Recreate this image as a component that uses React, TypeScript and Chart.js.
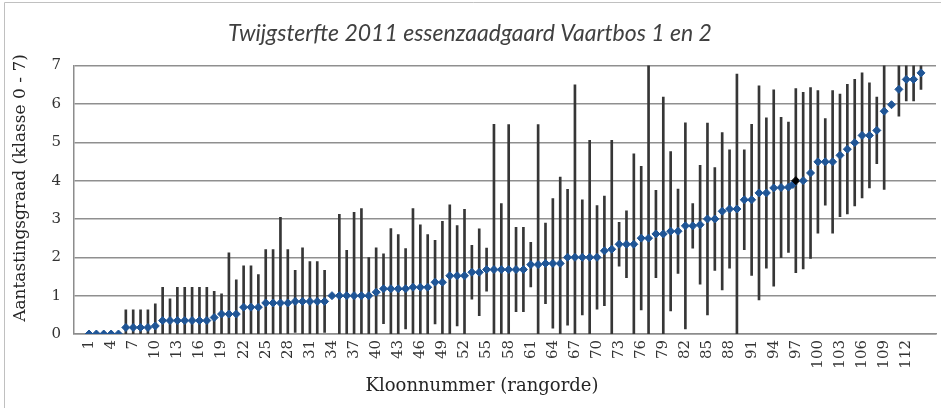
import React, { useEffect, useRef } from 'react';
import { Chart, registerables } from 'chart.js';

Chart.register(...registerables);

// Mean damage class per clone (rank order 1..114)
const means = [
  0, 0, 0, 0, 0, 0.17, 0.17, 0.17, 0.17, 0.21,
  0.35, 0.35, 0.35, 0.35, 0.35, 0.35, 0.35, 0.43, 0.52, 0.52,
  0.52, 0.7, 0.7, 0.7, 0.81, 0.81, 0.81, 0.81, 0.85, 0.85,
  0.85, 0.85, 0.85, 1.0, 1.0, 1.0, 1.0, 1.0, 1.0, 1.09,
  1.18, 1.18, 1.18, 1.18, 1.22, 1.22, 1.22, 1.35, 1.35, 1.52,
  1.52, 1.52, 1.61, 1.61, 1.68, 1.68, 1.68, 1.68, 1.68, 1.68,
  1.81, 1.81, 1.84, 1.84, 1.84, 2.0, 2.0, 2.0, 2.0, 2.0,
  2.17, 2.21, 2.34, 2.34, 2.34, 2.5, 2.5, 2.61, 2.61, 2.68,
  2.68, 2.82, 2.82, 2.85, 3.0, 3.0, 3.2, 3.26, 3.26, 3.5,
  3.5, 3.68, 3.68, 3.81, 3.82, 3.83, 4.0, 4.0, 4.2, 4.49,
  4.49, 4.49, 4.66, 4.82, 4.99, 5.18, 5.18, 5.31, 5.81, 5.98,
  6.38, 6.64, 6.64, 6.81,
];

// Standard deviation (error bar half-length)
const sds = [
  0, 0, 0, 0, 0, 0.46, 0.46, 0.46, 0.46, 0.58,
  0.87, 0.57, 0.87, 0.87, 0.87, 0.87, 0.87, 0.68, 0.53, 1.6,
  0.89, 1.08, 1.08, 0.85, 1.39, 1.39, 2.23, 1.39, 0.81, 1.4,
  1.04, 1.04, 0.81, 0, 2.12, 1.18, 2.17, 2.27, 0.99, 1.16,
  0.91, 1.57, 1.41, 1.05, 2.05, 1.63, 1.37, 1.09, 1.59, 1.85,
  1.31, 1.73, 0.7, 1.13, 0.56, 3.79, 1.72, 3.78, 1.1, 1.1,
  0.58, 3.65, 1.05, 1.69, 2.25, 1.77, 4.5, 1.5, 3.05, 1.35,
  1.43, 2.84, 0.57, 0.87, 2.36, 1.87, 4.6, 1.14, 3.57, 2.08,
  1.1, 2.69, 0.58, 1.55, 2.5, 1.34, 2.05, 1.54, 3.52, 1.3,
  1.97, 2.79, 1.96, 2.56, 1.83, 1.7, 2.4, 2.3, 2.23, 1.86,
  1.13, 1.86, 1.6, 1.69, 1.65, 1.63, 1.37, 0.87, 2.04, 0,
  0.7, 0.56, 0.56, 0.43,
];

const highlightRank = 97;
const extraRanks = [96.6];
const extraValues = [3.9];

const tickLabels = [
  1, 4, 7, 10, 13, 16, 19, 22, 25, 28, 31, 34, 37, 40, 43, 46, 49, 52, 55,
  58, 61, 64, 67, 70, 73, 76, 79, 82, 85, 88, 91, 94, 97, 100, 103, 106, 109, 112,
];

const yTicks = [0, 1, 2, 3, 4, 5, 6, 7];

const TITLE = 'Twijgsterfte 2011 essenzaadgaard Vaartbos 1 en 2';
const Y_TITLE = 'Aantastingsgraad (klasse 0 - 7)';
const X_TITLE = 'Kloonnummer (rangorde)';

const BLUE = '#1f5596';
const SERIF = '"DejaVu Serif", serif';

export default function App() {
  const ref = useRef<HTMLCanvasElement | null>(null);

  useEffect(() => {
    document.body.style.margin = '0';
    const canvas = ref.current;
    if (!canvas) return;
    const ranks = means.map((_, i) => i + 1);

    const framePlugin = {
      id: 'frame',
      beforeDraw(chart: any) {
        const ctx = chart.ctx;
        ctx.save();
        ctx.strokeStyle = '#c0c0c0';
        ctx.lineWidth = 1;
        ctx.beginPath();
        ctx.moveTo(4.5, 420);
        ctx.lineTo(4.5, 2.5);
        ctx.lineTo(960, 2.5);
        ctx.stroke();
        ctx.restore();
      },
    };

    const axisTitles = {
      id: 'axisTitles',
      afterDraw(chart: any) {
        const ctx = chart.ctx;
        ctx.save();
        ctx.fillStyle = '#262626';
        ctx.textAlign = 'center';
        ctx.textBaseline = 'middle';
        ctx.font = '18px ' + SERIF;
        ctx.fillText(X_TITLE, 482, 386);
        ctx.font = '17px ' + SERIF;
        ctx.translate(21, 188);
        ctx.rotate(-Math.PI / 2);
        ctx.fillText(Y_TITLE, 0, 0);
        ctx.restore();
      },
    };

    const chart = new Chart(canvas, {
      type: 'bar',
      data: {
        datasets: [
          {
            type: 'line',
            data: ranks.map((r, i) => ({ x: r, y: means[i] })),
            showLine: false,
            pointStyle: 'rectRot',
            pointRadius: 4,
            pointBackgroundColor: ranks.map((r) => (r === highlightRank ? '#000000' : BLUE)),
            pointBorderColor: ranks.map((r) => (r === highlightRank ? '#000000' : BLUE)),
            pointBorderWidth: 1,
            order: 0,
          } as any,
          {
            type: 'line',
            data: extraRanks.map((r, i) => ({ x: r, y: extraValues[i] })),
            showLine: false,
            pointStyle: 'rectRot',
            pointRadius: 4,
            pointBackgroundColor: BLUE,
            pointBorderColor: BLUE,
            pointBorderWidth: 1,
            order: 1,
          } as any,
          {
            type: 'bar',
            data: ranks.map((r, i) => ({ x: r, y: [means[i] - sds[i], means[i] + sds[i]] })),
            backgroundColor: '#363636',
            borderWidth: 0,
            barThickness: 2,
            grouped: false,
            order: 2,
          } as any,
        ],
      },
      options: {
        responsive: false,
        animation: false,
        layout: { padding: { left: 0, right: 1, top: 0, bottom: 0 } },
        plugins: {
          legend: { display: false },
          tooltip: { enabled: false },
          title: {
            display: true,
            text: TITLE,
            color: '#404040',
            font: { family: 'Lato', style: 'italic', size: 23, weight: 'normal' },
            padding: { top: 20, bottom: 18 },
          },
        },
        scales: {
          x: {
            type: 'linear',
            min: 0.5,
            max: 114.5,
            grid: { display: false, drawTicks: false },
            border: { display: true, color: '#8c8c8c', width: 1.5 },
            afterBuildTicks: (s: any) => {
              s.ticks = tickLabels.map((v) => ({ value: v }));
            },
            afterFit: (s: any) => {
              s.height = 74;
            },
            ticks: {
              autoSkip: false,
              minRotation: 90,
              maxRotation: 90,
              padding: 6,
              color: '#333333',
              font: { family: SERIF, size: 15 },
              callback: (v: any) => String(v),
            },
          },
          y: {
            min: 0,
            max: 7,
            afterBuildTicks: (s: any) => {
              s.ticks = yTicks.map((v) => ({ value: v }));
            },
            afterFit: (s: any) => {
              s.width = 74;
            },
            grid: { color: '#8f8f8f', lineWidth: 1.5, drawTicks: false },
            border: { display: true, color: '#8c8c8c', width: 1.5 },
            ticks: {
              padding: 13,
              color: '#333333',
              font: { family: SERIF, size: 15 },
            },
          },
        },
      } as any,
      plugins: [framePlugin, axisTitles],
    });

    return () => chart.destroy();
  }, []);

  return (
    <div style={{ width: 941, height: 408, position: 'relative', background: '#fff' }}>
      <canvas ref={ref} width={941} height={408} style={{ width: 941, height: 408, display: 'block' }} />
    </div>
  );
}
